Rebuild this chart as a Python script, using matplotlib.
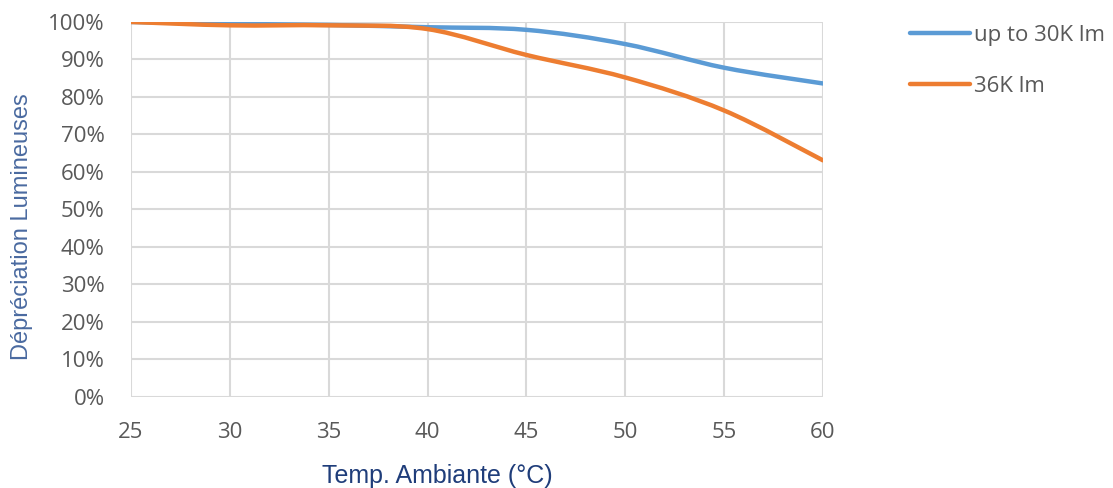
import matplotlib.pyplot as plt
from matplotlib.path import Path
from matplotlib.patches import PathPatch
from matplotlib.lines import Line2D
from matplotlib.ticker import PercentFormatter

# valeurs
temps = [25, 30, 35, 40, 45, 50, 55, 60]
serie_30k = [100, 99.5, 99.2, 98.6, 97.9, 94.1, 87.8, 83.6]
serie_36k = [100, 99.1, 99.1, 98.1, 91.2, 85.2, 76.4, 63.1]
labels = ['up to 30K lm', '36K lm']
couleurs = ['#5b9bd5', '#ed7d31']


# courbe lissée façon Excel (Catmull-Rom -> Bezier), tracée par matplotlib
def chemin_lisse(x, y, t=1/6):
    verts = [(x[0], y[0])]
    codes = [Path.MOVETO]
    n = len(x)
    for i in range(n - 1):
        x0, y0 = (x[i - 1], y[i - 1]) if i > 0 else (x[i], y[i])
        x3, y3 = (x[i + 2], y[i + 2]) if i + 2 < n else (x[i + 1], y[i + 1])
        c1 = (x[i] + (x[i + 1] - x0) * t, y[i] + (y[i + 1] - y0) * t)
        c2 = (x[i + 1] - (x3 - x[i]) * t, y[i + 1] - (y3 - y[i]) * t)
        verts += [c1, c2, (x[i + 1], y[i + 1])]
        codes += [Path.CURVE4] * 3
    return Path(verts, codes)


plt.rcParams['font.family'] = ['Open Sans', 'DejaVu Sans']

fig = plt.figure(figsize=(11.13, 4.88), dpi=100)
ax = fig.add_axes([0.1177, 0.1865, 0.6217, 0.7685])

for ys, c in zip([serie_30k, serie_36k], couleurs):
    ax.add_patch(PathPatch(chemin_lisse(temps, ys), facecolor='none',
                           edgecolor=c, lw=3.2, capstyle='round', zorder=3))

ax.set_xlim(25, 60)
ax.set_ylim(0, 100)
ax.set_xticks(range(25, 61, 5))
ax.set_yticks(range(0, 101, 10))
ax.yaxis.set_major_formatter(PercentFormatter(decimals=0))
ax.grid(True, color='#d9d9d9', lw=1.5)
ax.set_axisbelow(True)
for s in ax.spines.values():
    s.set_visible(False)
ax.tick_params(length=0, labelsize=16, colors='#595959')
ax.tick_params(axis='x', pad=18)
ax.tick_params(axis='y', pad=19)

fig.text(0.02, 0.535, 'Dépréciation Lumineuses', rotation=90, ha='center',
         va='center', fontsize=17, color='#4a6aa0', family='Liberation Sans')
fig.text(0.393, 0.025, 'Temp. Ambiante (°C)', ha='center', va='center',
         fontsize=18, color='#1f3d7a', family='Liberation Sans')

handles = [Line2D([], [], color=c, lw=3.2, solid_capstyle='round') for c in couleurs]
fig.legend(handles, labels, loc='upper left', bbox_to_anchor=(0.8, 0.99),
           frameon=False, fontsize=16, labelcolor='#595959',
           handlelength=2.7, handletextpad=0.15, labelspacing=1.35)

fig.savefig('out.png', dpi=100)
